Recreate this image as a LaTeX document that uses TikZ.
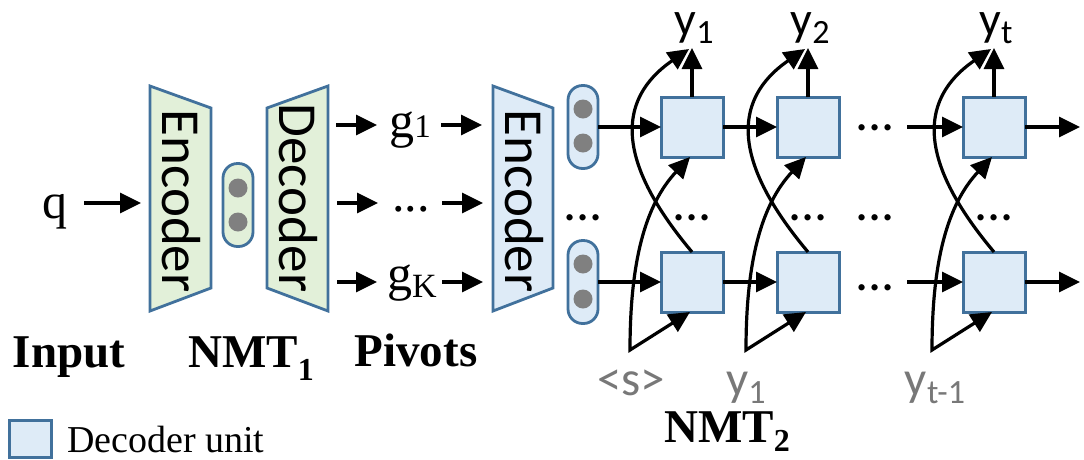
\documentclass[tikz,border=0pt]{standalone}
\usepackage{fontspec}
\setmainfont{Liberation Serif}
\newfontfamily\calfont{Carlito}
\usetikzlibrary{arrows.meta}
\definecolor{boxblue}{RGB}{65,113,156}
\definecolor{boxfill}{RGB}{222,235,247}
\definecolor{greenfill}{RGB}{226,240,217}
\definecolor{dotgray}{RGB}{128,128,128}
\definecolor{labgray}{RGB}{120,120,120}
\newcommand{\fs}[1]{\fontsize{#1}{#1}\selectfont}
\begin{document}
\begin{tikzpicture}[x=1pt,y=-1pt,
  arr/.style={line width=3.2pt,-{Triangle[length=21pt,width=20pt]}},
  darr/.style={line width=3.2pt,{Triangle[length=21pt,width=20pt]}-{Triangle[length=21pt,width=20pt]},line join=miter},
  dbox/.style={draw=boxblue,fill=boxfill,line width=3pt,minimum width=62pt,minimum height=60pt,inner sep=0pt,outer sep=0pt},
  capsule/.style={draw=boxblue,line width=2.8pt,minimum width=30pt,minimum height=83pt,rounded corners=14.5pt,inner sep=0pt,outer sep=0pt},
  gdot/.style={circle,fill=dotgray,minimum size=19pt,inner sep=0pt},
  trap/.style={draw=boxblue,line width=2.8pt,line join=miter},
  vtext/.style={rotate=-90,inner sep=0pt,font=\calfont\fs{55}},
  sertext/.style={inner sep=0pt,anchor=base,font=\fs{50}},
  boldlab/.style={inner sep=0pt,anchor=base,font=\bfseries\fs{47}},
  ylab/.style={inner sep=0pt,anchor=base,font=\calfont\fs{48},text height=23pt},
  glab/.style={inner sep=0pt,anchor=base,font=\calfont\fs{49},text=labgray,text depth=0pt},
  dots/.style={inner sep=0pt,anchor=base,font=\calfont\fs{52}}
]
\useasboundingbox (0,0) rectangle (1084,459);

% ---------- left part ----------
\node[sertext] (q) at (55,218) {q};
\coordinate (qs) at (84,203);
\coordinate (qe) at (141,203);
\draw[arr] (qs) -- (qe);

\draw[trap,fill=greenfill] (150,86) -- (211,108) -- (211,288) -- (150,311) -- cycle;
\node[vtext] (enc1) at (181,201) {Encoder};

\node[capsule,fill=greenfill] (cap0) at (238,205) {};
\node[gdot] (cap0a) at (238,188) {};
\node[gdot] (cap0b) at (238,222) {};

\draw[trap,fill=greenfill] (267,108) -- (328,86) -- (328,311) -- (267,288) -- cycle;
\node[vtext] (dec1) at (298,198) {Decoder};

\draw[trap,fill=boxfill] (493,86) -- (553,108) -- (553,288) -- (493,311) -- cycle;
\node[vtext] (enc2) at (524,201) {Encoder};

\node[sertext] (g1) at (410,137) {g{\fs{33}1}};
\node[sertext] (gm) at (411,211) {...};
\node[sertext] (gk) at (412,290) {g\raisebox{-7pt}{\fs{34}K}};

\coordinate (a1s) at (336,125); \coordinate (a1e) at (377,125);
\coordinate (b1s) at (441,125); \coordinate (b1e) at (482,125);
\coordinate (a2s) at (337,203); \coordinate (a2e) at (378,203);
\coordinate (b2s) at (442,203); \coordinate (b2e) at (483,203);
\coordinate (a3s) at (337,282); \coordinate (a3e) at (377,282);
\coordinate (b3s) at (442,282); \coordinate (b3e) at (483,282);
\foreach \n in {a1,b1,a2,b2,a3,b3} {\draw[arr] (\n s) -- (\n e);}

\node[boldlab] (inp) at (69,367) {Input};
\node[boldlab] (nmt1) at (251,367) {NMT\raisebox{-13pt}{\fs{32}1}};
\node[boldlab] (piv) at (416,366) {Pivots};

% ---------- NMT2 decoder ----------
\node[capsule,fill=boxfill] (capT) at (583,127) {};
\node[gdot] (capTa) at (583,109) {};
\node[gdot] (capTb) at (583,143) {};
\node[capsule,fill=boxfill] (capB) at (583,282) {};
\node[gdot] (capBa) at (583,264) {};
\node[gdot] (capBb) at (583,299) {};
\node[dots] (capM) at (583,220) {...};

\foreach \i/\cx in {1/692,2/808,3/994} {
  \node[dbox] (t\i) at (\cx,127) {};
  \node[dbox] (b\i) at (\cx,282) {};
  \coordinate (up\i) at (\cx,48);
  \coordinate (ct\i) at (\cx-3,49);
  \coordinate (v\i) at (\cx-62,350);
  \node[dots] (m\i) at (\cx,220) {...};
}
\foreach \i in {1,2,3} {
  \draw[arr] (t\i.north) -- (up\i);
  \draw[arr] (b\i.north) .. controls +(-52,-62) and +(-91,63) .. (ct\i);
  \draw[darr] ([xshift=-2pt]t\i.south) .. controls +(-45,48) and +(0,-88) .. (v\i) -- ([xshift=-2pt]b\i.south);
}

\node[dots] (dT) at (875,130) {...};
\node[dots] (dM) at (875,220) {...};
\node[dots] (dB) at (875,290) {...};

\coordinate (in3t) at (907,127);
\coordinate (in3b) at (907,282);
\coordinate (out3t) at (1080,127);
\coordinate (out3b) at (1080,282);

\draw[arr] (capT.east) -- (t1.west);
\draw[arr] (t1.east) -- (t2.west);
\draw[arr] (in3t) -- (t3.west);
\draw[arr] (t3.east) -- (out3t);
\draw[arr] (capB.east) -- (b1.west);
\draw[arr] (b1.east) -- (b2.west);
\draw[arr] (in3b) -- (b3.west);
\draw[arr] (b3.east) -- (out3b);

% labels
\node[ylab] (y1) at (694,35) {y\raisebox{-8pt}{\fs{34}1}};
\node[ylab] (y2) at (810,35) {y\raisebox{-8pt}{\fs{34}2}};
\node[ylab] (yt) at (996,35) {y\raisebox{-8pt}{\fs{34}t}};

\node[glab] (ls) at (631,395) {<s>};
\node[glab] (ly1) at (746,395) {y\raisebox{-8pt}[\height][0pt]{\fs{34}1}};
\node[glab] (lyt) at (935,395) {y\raisebox{-8pt}[\height][0pt]{\fs{34}t-1}};

\node[boldlab] (nmt2) at (727,442) {NMT\raisebox{-9pt}{\fs{32}2}};

% legend
\node[dbox,minimum width=42pt,minimum height=37pt] (leg) at (30,439) {};
\node[inner sep=0pt,anchor=base west,font=\fs{38}] (legt) at (67,452) {Decoder unit};
\end{tikzpicture}
\end{document}
